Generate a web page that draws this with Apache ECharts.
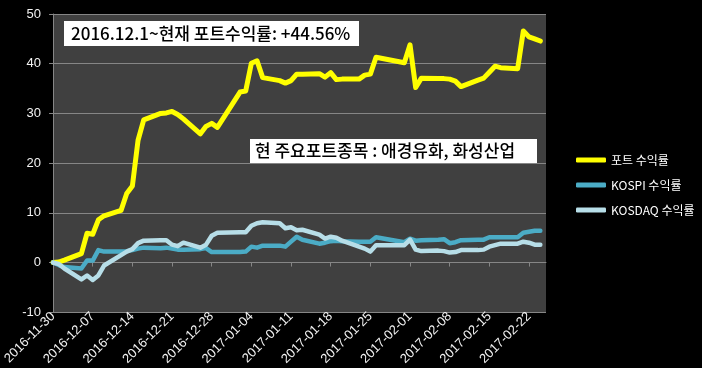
<!DOCTYPE html>
<html><head><meta charset="utf-8">
<script src="https://cdn.jsdelivr.net/npm/echarts@6/dist/echarts.min.js"></script>
<style>html,body{margin:0;padding:0;background:#000;}#c{width:702px;height:368px;}</style>
</head><body><div id="c"></div>
<script>
const dates = ['2016-11-30','2016-12-01','2016-12-02','2016-12-05','2016-12-06','2016-12-07','2016-12-08','2016-12-09',
'2016-12-12','2016-12-13','2016-12-14','2016-12-15','2016-12-16','2016-12-19','2016-12-20','2016-12-21','2016-12-22','2016-12-23',
'2016-12-26','2016-12-27','2016-12-28','2016-12-29','2017-01-02','2017-01-03','2017-01-04','2017-01-05','2017-01-06',
'2017-01-09','2017-01-10','2017-01-11','2017-01-12','2017-01-13','2017-01-16','2017-01-17','2017-01-18','2017-01-19','2017-01-20',
'2017-01-23','2017-01-24','2017-01-25','2017-01-26','2017-01-31','2017-02-01','2017-02-02','2017-02-03',
'2017-02-06','2017-02-07','2017-02-08','2017-02-09','2017-02-10','2017-02-13','2017-02-14','2017-02-15','2017-02-16','2017-02-17',
'2017-02-20','2017-02-21','2017-02-22','2017-02-23','2017-02-24'];
const portReturn = [0,0.1,0.5,1.8,5.9,5.7,8.6,9.4,
10.5,13.9,15.4,24.6,28.7,30.0,30.1,30.4,29.8,28.9,
25.9,27.4,28.0,27.2,34.3,34.5,40.1,40.6,37.2,
36.6,36.1,36.6,37.9,37.9,38.0,37.3,38.2,36.8,36.9,
36.9,37.7,37.9,41.3,40.2,43.8,35.2,37.1,
37.0,37.0,36.9,36.5,35.4,36.7,37.1,38.3,39.5,39.2,
39.0,46.6,45.4,45.0,44.56];
const kospiReturn = [0,-0.5,-0.9,-1.2,0.4,0.4,2.5,2.2,
2.2,2.3,2.5,2.8,3.0,2.9,3.0,2.8,2.6,2.6,
2.7,2.9,2.1,2.1,2.1,2.2,3.2,3.0,3.4,
3.4,3.2,4.2,5.2,4.6,3.8,4.0,4.3,4.4,4.3,
4.2,4.2,4.2,5.1,4.1,4.8,4.4,4.5,
4.6,4.7,3.9,4.1,4.5,4.6,4.6,5.1,5.1,5.1,
5.1,6.0,6.2,6.4,6.4];
const kosdaqReturn = [0,-0.3,-1.2,-3.4,-2.6,-3.5,-2.6,-0.6,
1.5,2.2,2.7,3.9,4.4,4.5,4.5,3.6,3.3,4.0,
3.0,3.6,5.4,6.0,6.1,6.1,7.4,7.9,8.1,
7.9,6.9,7.1,6.5,6.6,5.6,4.8,5.2,5.0,4.4,
3.2,2.8,2.2,3.5,3.5,4.6,2.6,2.3,
2.4,2.3,2.0,2.1,2.5,2.5,2.6,3.2,3.5,3.8,
3.8,4.2,4.0,3.6,3.6];
const tickLabels = ['2016-11-30','2016-12-07','2016-12-14','2016-12-21','2016-12-28','2017-01-04','2017-01-11',
'2017-01-18','2017-01-25','2017-02-01','2017-02-08','2017-02-15','2017-02-22'];
const seriesNames = ['포트 수익률','KOSPI 수익률','KOSDAQ 수익률'];
const axisEndDate = '2017-02-25';
const noteTitle = '2016.12.1~현재 포트수익률: +44.56%';
const noteHoldings = '현 주요포트종목 : 애경유화, 화성산업';

function utc(s){ const p = s.split('-').map(Number); return Date.UTC(p[0], p[1]-1, p[2]); }
const base = utc(dates[0]);
function dayIndex(s){ return Math.round((utc(s) - base) / 86400000); }
const tickVals = tickLabels.map(dayIndex);
const labelMap = {};
tickLabels.forEach(t => { labelMap[dayIndex(t)] = t; });
function pairs(arr){ return dates.map((d, i) => [dayIndex(d), arr[i]]); }

const grey = '#868686';
const colors = ['#ffff00', '#4bacc6', '#b7dee8'];
const values = [portReturn, kospiReturn, kosdaqReturn];

const chart = echarts.init(document.getElementById('c'), null, {renderer: 'canvas'});
chart.setOption({
  backgroundColor: '#000',
  animation: false,
  grid: {left: 52, right: 156, top: 14, bottom: 14, show: true, backgroundColor: '#404040', borderWidth: 0},
  legend: {
    orient: 'vertical', left: 571, top: 148, itemWidth: 30, itemHeight: 5, itemGap: 11, icon: 'roundRect',
    textStyle: {color: '#ffffff', fontSize: 12, fontFamily: '"Noto Sans CJK KR", sans-serif', lineHeight: 14},
    data: seriesNames
  },
  xAxis: {
    type: 'value', min: 0, max: dayIndex(axisEndDate),
    axisLine: {show: true, onZero: true, lineStyle: {color: grey, width: 1}},
    axisTick: {show: true, customValues: tickVals, length: 4, lineStyle: {color: grey}},
    axisLabel: {customValues: tickVals, rotate: 45, margin: 2, color: '#f2f2f2', fontSize: 13,
      fontFamily: '"Liberation Sans", sans-serif', formatter: v => labelMap[Math.round(v)] || ''},
    splitLine: {show: false}
  },
  yAxis: {
    type: 'value', min: -10, max: 50, interval: 10,
    axisLine: {show: true, onZero: false, lineStyle: {color: grey}},
    axisTick: {show: true, length: 4, lineStyle: {color: grey}},
    axisLabel: {color: '#f2f2f2', fontSize: 13, margin: 12, fontFamily: '"Liberation Sans", sans-serif'},
    splitLine: {show: true, lineStyle: {color: grey, width: 1}}
  },
  series: seriesNames.map((n, i) => ({
    name: n, type: 'line', showSymbol: false, symbol: 'none', color: colors[i],
    lineStyle: {width: i === 0 ? 5 : 4.5, color: colors[i], cap: 'round', join: 'round'},
    data: pairs(values[i])
  })),
  graphic: [
    {type: 'rect', shape: {x: 64, y: 21, width: 295, height: 25}, style: {fill: '#ffffff'}, z: 10},
    {type: 'text', x: 71, y: 33.5, z: 11, style: {text: noteTitle, fill: '#000', font: '500 17px "Noto Sans CJK KR"', verticalAlign: 'middle'}},
    {type: 'rect', shape: {x: 250, y: 139, width: 287, height: 24}, style: {fill: '#ffffff'}, z: 10},
    {type: 'text', x: 255, y: 151, z: 11, style: {text: noteHoldings, fill: '#000', font: '500 17px "Noto Sans CJK KR"', verticalAlign: 'middle'}}
  ]
});
</script>
</body></html>
